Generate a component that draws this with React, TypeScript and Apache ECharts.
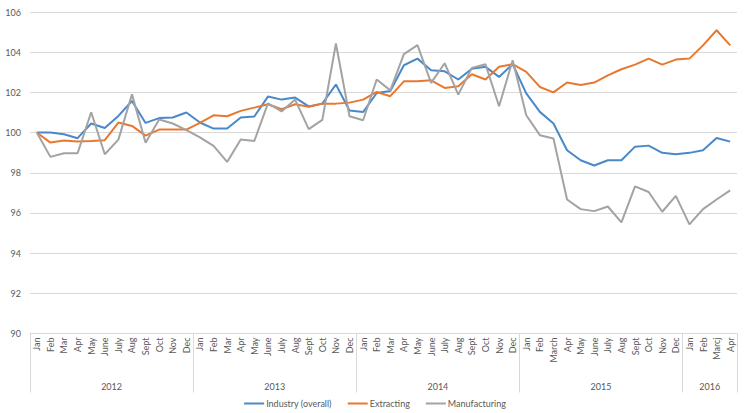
import React, { useEffect, useRef } from "react";
import * as echarts from "echarts";

const months: string[] = [
  "Jan", "Feb", "Mar", "Apr", "May", "June", "July", "Aug", "Sept", "Oct", "Nov", "Dec",
  "Jan", "Feb", "Mar", "Apr", "May", "June", "July", "Aug", "Sept", "Oct", "Nov", "Dec",
  "Jan", "Feb", "Mar", "Apr", "May", "June", "July", "Aug", "Sept", "Oct", "Nov", "Dec",
  "Jan", "Feb", "March", "Apr", "May", "June", "July", "Aug", "Sept", "Oct", "Nov", "Dec",
  "Jan", "Feb", "Marcj", "Apr",
];

const years: string[] = ["2012", "2013", "2014", "2015", "2016"];
const monthsPerYear: number[] = [12, 12, 12, 12, 4];

const industry: number[] = [
  100.0, 100.0, 99.92, 99.72, 100.45, 100.23, 100.83, 101.57, 100.48, 100.72, 100.75, 101.0,
  100.5, 100.2, 100.2, 100.75, 100.8, 101.79, 101.64, 101.74, 101.3, 101.44, 102.39, 101.1,
  101.02, 101.97, 102.07, 103.35, 103.68, 103.1, 103.05, 102.64, 103.18, 103.27, 102.77, 103.4,
  101.95, 101.03, 100.45, 99.12, 98.62, 98.36, 98.62, 98.62, 99.3, 99.35, 98.99, 98.92,
  98.99, 99.12, 99.73, 99.55,
];

const extracting: number[] = [
  100.0, 99.5, 99.6, 99.55, 99.58, 99.62, 100.5, 100.33, 99.85, 100.15, 100.15, 100.15,
  100.48, 100.86, 100.81, 101.08, 101.24, 101.41, 101.16, 101.41, 101.28, 101.44, 101.44, 101.49,
  101.64, 102.02, 101.81, 102.55, 102.55, 102.6, 102.22, 102.3, 102.9, 102.64, 103.27, 103.4,
  103.02, 102.27, 102.0, 102.49, 102.37, 102.49, 102.85, 103.15, 103.38, 103.68, 103.38, 103.63,
  103.68, 104.34, 105.09, 104.34,
];

const manufacturing: number[] = [
  100.0, 98.79, 98.97, 98.97, 101.01, 98.92, 99.65, 101.9, 99.49, 100.65, 100.45, 100.12,
  99.76, 99.34, 98.54, 99.66, 99.58, 101.45, 101.05, 101.64, 100.17, 100.63, 104.43, 100.81,
  100.61, 102.64, 102.1, 103.9, 104.35, 102.47, 103.45, 101.89, 103.22, 103.4, 101.31, 103.6,
  100.86, 99.87, 99.7, 96.67, 96.19, 96.09, 96.32, 95.53, 97.32, 97.04, 96.06, 96.85,
  95.43, 96.19, 96.67, 97.12,
];

const yTicks = { min: 90, max: 106, interval: 2 };

export default function App() {
  const ref = useRef<HTMLDivElement>(null);

  useEffect(() => {
    if (!ref.current) return;
    const chart = echarts.init(ref.current, undefined, { renderer: "svg" });

    // half-month slots for year labels & separators
    const totalHalf = months.length * 2;
    const yearSlots: string[] = new Array(totalHalf + 1).fill("");
    const sepIdx: number[] = [0];
    let acc = 0;
    years.forEach((y, k) => {
      const n = monthsPerYear[k];
      yearSlots[acc * 2 + n] = y;
      acc += n;
      sepIdx.push(acc * 2);
    });

    const font = "Lato, 'Open Sans', sans-serif";
    const txt = "#595959";

    chart.setOption({
      animation: false,
      backgroundColor: "#ffffff",
      textStyle: { fontFamily: font },
      grid: { left: 30, right: 13, top: 12, bottom: 79.5, containLabel: false },
      legend: {
        left: "center",
        top: 394,
        icon: "rect",
        itemWidth: 20,
        itemHeight: 2,
        itemGap: 16,
        textStyle: { color: txt, fontSize: 9, fontFamily: font, padding: [0, 0, 0, -3] },
        data: ["Industry (overall)", "Extracting", "Manufacturing"],
      },
      xAxis: [
        {
          type: "category",
          position: "bottom",
          data: months,
          boundaryGap: true,
          axisLine: { show: true, lineStyle: { color: "#d9d9d9", width: 1 } },
          axisTick: { show: false },
          axisLabel: {
            interval: 0,
            rotate: 90,
            fontSize: 9,
            color: txt,
            margin: 4,
            fontFamily: font,
          },
          splitLine: { show: false },
        },
        {
          type: "category",
          position: "bottom",
          data: yearSlots,
          boundaryGap: false,
          axisLine: { show: false },
          axisTick: {
            show: true,
            interval: (index: number) => sepIdx.includes(index),
            length: 59,
            lineStyle: { color: "#d9d9d9", width: 1 },
          },
          axisLabel: {
            interval: 0,
            fontSize: 9,
            color: txt,
            margin: 48,
            fontFamily: font,
          },
          splitLine: { show: false },
        },
      ],
      yAxis: {
        type: "value",
        min: yTicks.min,
        max: yTicks.max,
        interval: yTicks.interval,
        axisLine: { show: false },
        axisTick: { show: false },
        axisLabel: { fontSize: 9, color: txt, margin: 9, fontFamily: font },
        splitLine: { lineStyle: { color: "#d9d9d9", width: 1 } },
      },
      series: [
        {
          name: "Industry (overall)",
          type: "line",
          data: industry,
          symbol: "none",
          lineStyle: { color: "#4a89c8", width: 2 },
          itemStyle: { color: "#4a89c8" },
        },
        {
          name: "Extracting",
          type: "line",
          data: extracting,
          symbol: "none",
          lineStyle: { color: "#e9782f", width: 2 },
          itemStyle: { color: "#e9782f" },
        },
        {
          name: "Manufacturing",
          type: "line",
          data: manufacturing,
          symbol: "none",
          lineStyle: { color: "#a3a3a3", width: 2 },
          itemStyle: { color: "#a3a3a3" },
        },
      ],
    });

    return () => chart.dispose();
  }, []);

  return (
    <div
      ref={ref}
      style={{ position: "fixed", left: 0, top: 0, width: 750, height: 413, background: "#fff" }}
    />
  );
}
